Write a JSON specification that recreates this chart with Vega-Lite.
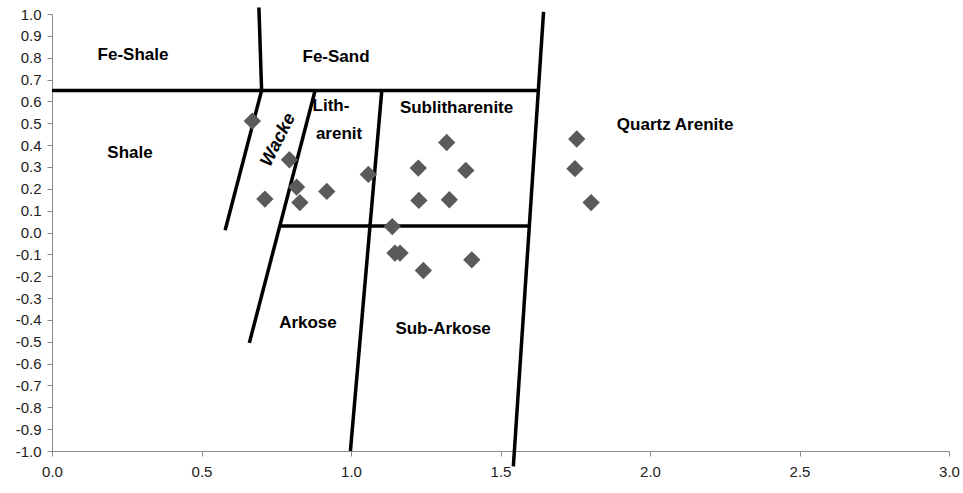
{
  "$schema": "https://vega.github.io/schema/vega-lite/v6.json",
  "width": 897,
  "height": 437,
  "autosize": {"type": "none"},
  "padding": {"left": 52, "top": 14, "right": 14, "bottom": 42},
  "background": "white",
  "config": {
    "view": {"stroke": null},
    "axis": {
      "grid": false,
      "domainColor": "#8c8c8c",
      "tickColor": "#8c8c8c",
      "tickSize": 5,
      "labelFont": "Liberation Sans",
      "labelFontSize": 15,
      "labelColor": "#222222",
      "title": null
    }
  },
  "datasets": {
    "samples": [
      {"x": 0.67, "y": 0.51},
      {"x": 0.794, "y": 0.333},
      {"x": 0.712, "y": 0.153},
      {"x": 0.818, "y": 0.208},
      {"x": 0.829, "y": 0.137},
      {"x": 0.919, "y": 0.188},
      {"x": 1.058, "y": 0.266},
      {"x": 1.225, "y": 0.295},
      {"x": 1.32, "y": 0.412},
      {"x": 1.384, "y": 0.284},
      {"x": 1.227, "y": 0.147},
      {"x": 1.329, "y": 0.15},
      {"x": 1.138, "y": 0.027},
      {"x": 1.147, "y": -0.094},
      {"x": 1.164, "y": -0.094},
      {"x": 1.242, "y": -0.174},
      {"x": 1.404, "y": -0.125},
      {"x": 1.755, "y": 0.428},
      {"x": 1.749, "y": 0.292},
      {"x": 1.803, "y": 0.137}
    ],
    "boundaries": [
      {"x1": 0.0, "y1": 0.65, "x2": 1.632, "y2": 0.65},
      {"x1": 0.692, "y1": 1.03, "x2": 0.701, "y2": 0.65},
      {"x1": 0.701, "y1": 0.65, "x2": 0.579, "y2": 0.01},
      {"x1": 0.88, "y1": 0.65, "x2": 0.66, "y2": -0.505},
      {"x1": 1.103, "y1": 0.65, "x2": 0.998, "y2": -1.0},
      {"x1": 1.644, "y1": 1.01, "x2": 1.543, "y2": -1.07},
      {"x1": 0.763, "y1": 0.03, "x2": 1.596, "y2": 0.03}
    ],
    "fields": [
      {"x": 0.271, "y": 0.814, "label": "Fe-Shale"},
      {"x": 0.95, "y": 0.804, "label": "Fe-Sand"},
      {"x": 0.261, "y": 0.365, "label": "Shale"},
      {"x": 0.933, "y": 0.577, "label": "Lith-"},
      {"x": 0.96, "y": 0.452, "label": "arenit"},
      {"x": 1.353, "y": 0.57, "label": "Sublitharenite"},
      {"x": 2.084, "y": 0.493, "label": "Quartz Arenite"},
      {"x": 0.856, "y": -0.412, "label": "Arkose"},
      {"x": 1.308, "y": -0.442, "label": "Sub-Arkose"}
    ],
    "rotated": [
      {"x": 0.757, "y": 0.424, "label": "Wacke"}
    ]
  },
  "layer": [
    {
      "data": {"name": "boundaries"},
      "mark": {"type": "rule", "color": "black", "strokeWidth": 3.5, "strokeCap": "butt"},
      "encoding": {
        "x": {"field": "x1", "type": "quantitative",
          "scale": {"domain": [0, 3], "nice": false, "zero": false},
          "axis": {"values": [0, 0.5, 1, 1.5, 2, 2.5, 3], "tickCount": 7, "format": ".1f", "labelPadding": 8, "orient": "bottom",
            "labelOverlap": false, "labelFlush": false, "labelBound": false}},
        "y": {"field": "y1", "type": "quantitative",
          "scale": {"domain": [-1, 1], "nice": false, "zero": false},
          "axis": {"values": [-1, -0.9, -0.8, -0.7, -0.6, -0.5, -0.4, -0.3, -0.2, -0.1, 0, 0.1, 0.2, 0.3, 0.4, 0.5, 0.6, 0.7, 0.8, 0.9, 1],
            "tickCount": 21,
            "labelExpr": "replace(format(datum.value, '.1f'), '\u2212', '-')", "labelPadding": 6,
            "labelOverlap": false, "labelFlush": false, "labelBound": false}},
        "x2": {"field": "x2"},
        "y2": {"field": "y2"}
      }
    },
    {
      "data": {"name": "samples"},
      "mark": {"type": "point", "shape": "diamond", "filled": true, "size": 300, "color": "#5a5a5a", "opacity": 1},
      "encoding": {
        "x": {"field": "x", "type": "quantitative"},
        "y": {"field": "y", "type": "quantitative"}
      }
    },
    {
      "data": {"name": "fields"},
      "mark": {"type": "text", "font": "Liberation Sans", "fontWeight": "bold", "fontSize": 17, "color": "black", "align": "center", "baseline": "middle"},
      "encoding": {
        "x": {"field": "x", "type": "quantitative"},
        "y": {"field": "y", "type": "quantitative"},
        "text": {"field": "label"}
      }
    },
    {
      "data": {"name": "rotated"},
      "mark": {"type": "text", "font": "Liberation Sans", "fontWeight": "bold", "fontStyle": "italic", "fontSize": 18, "color": "black", "align": "center", "baseline": "middle", "angle": -63},
      "encoding": {
        "x": {"field": "x", "type": "quantitative"},
        "y": {"field": "y", "type": "quantitative"},
        "text": {"field": "label"}
      }
    }
  ]
}
